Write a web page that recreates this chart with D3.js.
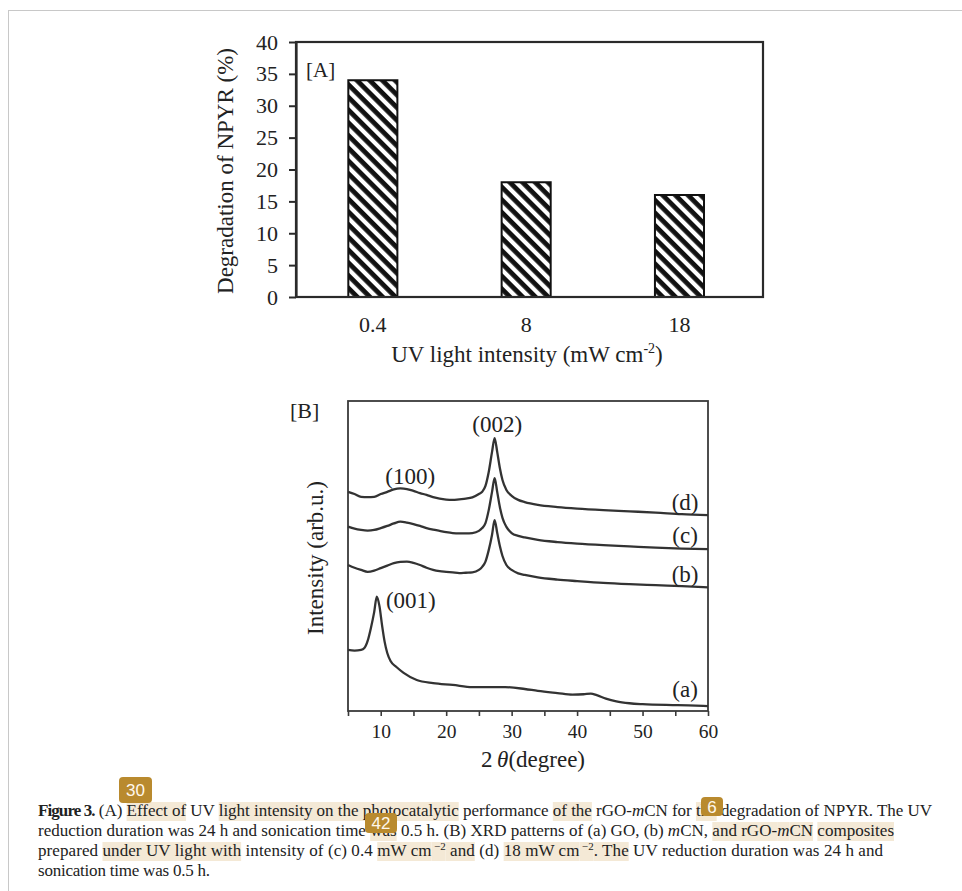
<!DOCTYPE html>
<html>
<head>
<meta charset="utf-8">
<script src="https://cdn.jsdelivr.net/npm/d3@7"></script>
<style>
  body { margin: 0; background: #fff; }
  svg text { font-family: "Liberation Serif", "Times New Roman", serif; fill: #222; }
</style>
</head>
<body>
<div id="fig"></div>
<script>
// ---- data: panel A (bar chart)
var barCats = ["0.4", "8", "18"];
var barVals = [34, 18, 16];
var yTicksA = [0, 5, 10, 15, 20, 25, 30, 35, 40];

// ---- data: panel B (XRD patterns), [2theta, intensity (arb.u.)]
var xrdA = [[5,19.7],[6,19.5],[7,19.7],[7.5,20.3],[8,22.6],[8.5,26.8],[9,31.9],[9.4,36.9],[9.8,33.9],[10.2,27.7],[10.6,22.3],[11,18.7],[11.5,16.1],[12.4,14.2],[13.5,12.3],[15.5,10.0],[18,9.0],[21,8.4],[24,7.7],[27,7.7],[29,7.7],[32,7.1],[34,6.5],[37,5.8],[39.3,5.3],[41,5.4],[42.1,5.6],[43,5.1],[44.4,4.0],[46,3.1],[48,2.5],[50,2.2],[54.6,1.9],[57,1.8],[60,1.6]];
var xrdB = [[5,47.1],[6,46.2],[7,45.5],[8,44.9],[9,45.3],[10,46.1],[11,46.9],[12,47.7],[13,48.1],[14,48.2],[15,47.8],[16,47.1],[17,46.2],[18,45.5],[19,45.1],[20,44.9],[21,44.7],[22,44.5],[23,44.6],[24,44.7],[25,45.5],[25.5,46.5],[26,48.2],[26.5,51.9],[27,56.8],[27.4,61.6],[27.8,57.4],[28.2,53.2],[28.6,50.0],[29.2,47.1],[30,45.5],[31,44.4],[32,43.9],[34,43.1],[37,42.4],[40,41.9],[44,41.3],[48,40.9],[52,40.6],[56,40.3],[60,39.9]];
var xrdC = [[5,59.5],[6,58.8],[7,58.4],[8,58.2],[9,58.4],[10,59.0],[11,59.7],[12,60.5],[13,61.1],[14,60.8],[15,60.3],[16,59.7],[17,59.0],[18,58.5],[19,58.1],[20,57.7],[21,57.4],[22,57.3],[23,57.3],[24,57.4],[25,58.1],[25.5,59.0],[26,60.6],[26.5,64.8],[27,70.6],[27.4,75.1],[27.8,70.6],[28.2,65.8],[28.6,62.3],[29.2,59.4],[30,57.4],[31,56.5],[32,56.0],[34,55.2],[37,54.5],[40,54.0],[44,53.5],[48,53.1],[52,52.7],[56,52.4],[60,52.2]];
var xrdD = [[5,70.7],[6,70.0],[7,69.1],[8,69.0],[9,69.1],[10,70.0],[11,70.7],[12,71.5],[13,71.8],[14,71.6],[15,71.0],[16,70.3],[17,69.7],[18,69.0],[19,68.5],[20,68.2],[21,68.1],[22,68.3],[23,68.5],[24,68.9],[25,70.0],[25.5,70.7],[26,72.6],[26.5,77.1],[27,83.5],[27.4,88.0],[27.8,83.5],[28.2,78.4],[28.6,74.5],[29.2,71.3],[30,69.4],[31,68.1],[32,67.4],[34,66.5],[37,65.8],[40,65.3],[44,64.8],[48,64.4],[52,64.0],[56,63.5],[60,63.2]];
var xTicksB = [5, 10, 15, 20, 25, 30, 35, 40, 45, 50, 55, 60];
var curveNames = ["(a)", "(b)", "(c)", "(d)"];
var curveLabelAt = [[56.5, 4.6], [56.5, 41.7], [56.5, 54.1], [56.5, 64.8]];
var peakNames = ["(001)", "(100)", "(002)"];
var peakLabelAt = [[10.8, 33.1], [14.5, 73.1], [27.8, 90.1]];

// ---- caption text, one array per line: [text, flags]  (b bold, i italic, h highlight, s superscript)
var capLine1 = [["Figure 3.","b"],[" (A) ",""],["Effect of","h"],[" UV ",""],["light intensity on the photocatalytic","h"],[" performance ",""],["of the","h"],[" rGO-",""],["m","i"],["CN for ",""],["the","h"],[" degradation of NPYR. The UV",""]];
var capLine2 = [["reduction duration was 24 h and sonication time ",""],["was","h"],[" 0.5 h. (B) XRD patterns of (a) GO, (b) ",""],["m","i"],["CN, ",""],["and rGO-","h"],["m","hi"],["CN","h"],[" ",""],["composites","h"]];
var capLine3 = [["prepared ",""],["under UV light with","h"],[" intensity of (c) 0.4 ",""],["mW cm","h"],["\u2009\u22122","hs"],[" and","h"],[" (d) ",""],["18 mW cm","h"],["\u2009\u22122","hs"],[". The","h"],[" UV reduction duration was 24 h and",""]];
var capLine4 = [["sonication time was 0.5 h.",""]];

var svg = d3.select("#fig").append("svg")
        .attr("width", 962)
        .attr("height", 891);

// light frame around the figure
svg.append("rect")
        .attr("x", 8.5).attr("y", 10.5)
        .attr("width", 1000).attr("height", 1000)
        .attr("fill", "none")
        .attr("stroke", "#c8c8c8");

// ================= panel A =================
var pa = { left: 296, right: 763, top: 42, bottom: 297 };

var xA = d3.scaleBand()
        .domain(barCats)
        .range([pa.left, pa.right])
        .paddingInner(0.68)
        .paddingOuter(0.363)
        .align(0.47);

var yA = d3.scaleLinear()
        .domain([0, 40])
        .range([pa.bottom, pa.top]);

var hatch = svg.append("defs").append("pattern")
        .attr("id", "hatch")
        .attr("patternUnits", "userSpaceOnUse")
        .attr("width", 9)
        .attr("height", 9)
        .attr("patternTransform", "rotate(45)");
hatch.append("rect").attr("width", 9).attr("height", 9).attr("fill", "#fff");
hatch.append("rect").attr("width", 9).attr("height", 4.8).attr("fill", "#111");

svg.selectAll(".bar")
        .data(barVals)
        .enter().append("rect")
        .attr("class", "bar")
        .attr("x", function (d, i) { return xA(barCats[i]); })
        .attr("y", function (d) { return yA(d); })
        .attr("width", xA.bandwidth())
        .attr("height", function (d) { return yA(0) - yA(d); })
        .attr("fill", "url(#hatch)")
        .attr("stroke", "#111")
        .attr("stroke-width", 2);

svg.append("rect")
        .attr("x", pa.left).attr("y", pa.top)
        .attr("width", pa.right - pa.left)
        .attr("height", pa.bottom - pa.top)
        .attr("fill", "none")
        .attr("stroke", "#2a2a2a")
        .attr("stroke-width", 2.2);

var gyA = svg.append("g")
        .attr("transform", "translate(" + pa.left + ",0)")
        .call(d3.axisLeft(yA).tickValues(yTicksA).tickSize(7).tickSizeOuter(0).tickPadding(11));
gyA.select(".domain").attr("stroke", "#2a2a2a").attr("stroke-width", 2.2);
gyA.selectAll(".tick line").attr("stroke", "#2a2a2a").attr("stroke-width", 2);
gyA.selectAll(".tick text").style("font-size", "22px").style("font-family", null).attr("fill", null);

var gxA = svg.append("g")
        .attr("transform", "translate(0," + pa.bottom + ")")
        .call(d3.axisBottom(xA).tickSize(0).tickPadding(19));
gxA.select(".domain").remove();
gxA.selectAll(".tick text").style("font-size", "22px").style("font-family", null).attr("fill", null);

svg.append("text")
        .attr("x", 306).attr("y", 77)
        .style("font-size", "21px")
        .text("[A]");

svg.append("text")
        .attr("transform", "translate(233,171) rotate(-90)")
        .attr("text-anchor", "middle")
        .style("font-size", "23px")
        .text("Degradation of NPYR (%)");

var titleA = svg.append("text")
        .attr("x", 527).attr("y", 362)
        .attr("text-anchor", "middle")
        .style("font-size", "23px");
titleA.append("tspan").text("UV light intensity (mW cm");
titleA.append("tspan").attr("dy", -9).style("font-size", "14px").text("-2");
titleA.append("tspan").attr("dy", 9).text(")");

// ================= panel B =================
var pb = { left: 348, right: 708, top: 401, bottom: 711 };

var xB = d3.scaleLinear()
        .domain([5, 60])
        .range([pb.left, pb.right]);

var yB = d3.scaleLinear()
        .domain([0, 100])
        .range([pb.bottom, pb.top]);

var gxB = svg.append("g")
        .attr("transform", "translate(0," + pb.bottom + ")")
        .call(d3.axisBottom(xB).tickValues(xTicksB).tickSize(5).tickSizeOuter(0).tickPadding(8)
                .tickFormat(function (d) { return d % 10 === 0 ? d : ""; }));
gxB.select(".domain").remove();
gxB.selectAll(".tick line").attr("stroke", "#3a3a3a").attr("stroke-width", 1.6);
gxB.selectAll(".tick text").style("font-size", "19.5px").style("font-family", null).attr("fill", null);

svg.append("rect")
        .attr("x", pb.left).attr("y", pb.top)
        .attr("width", pb.right - pb.left)
        .attr("height", pb.bottom - pb.top)
        .attr("fill", "none")
        .attr("stroke", "#3a3a3a")
        .attr("stroke-width", 1.8);

var line = d3.line()
        .x(function (d) { return xB(d[0]); })
        .y(function (d) { return yB(d[1]); })
        .curve(d3.curveMonotoneX);

svg.selectAll(".xrd")
        .data([xrdA, xrdB, xrdC, xrdD])
        .enter().append("path")
        .attr("class", "xrd")
        .attr("d", line)
        .attr("fill", "none")
        .attr("stroke", "#333")
        .attr("stroke-width", 2.3)
        .attr("stroke-linejoin", "round");

svg.selectAll(".clabel")
        .data(curveNames)
        .enter().append("text")
        .attr("class", "clabel")
        .attr("x", function (d, i) { return xB(curveLabelAt[i][0]); })
        .attr("y", function (d, i) { return yB(curveLabelAt[i][1]); })
        .attr("text-anchor", "middle")
        .style("font-size", "23px")
        .text(function (d) { return d; });

svg.selectAll(".plabel")
        .data(peakNames)
        .enter().append("text")
        .attr("class", "plabel")
        .attr("x", function (d, i) { return xB(peakLabelAt[i][0]); })
        .attr("y", function (d, i) { return yB(peakLabelAt[i][1]); })
        .attr("text-anchor", function (d, i) { return i === 0 ? "start" : "middle"; })
        .style("font-size", "23px")
        .text(function (d) { return d; });

svg.append("text")
        .attr("x", 290).attr("y", 418)
        .style("font-size", "22px")
        .text("[B]");

svg.append("text")
        .attr("transform", "translate(323,558) rotate(-90)")
        .attr("text-anchor", "middle")
        .style("font-size", "23px")
        .text("Intensity (arb.u.)");

var titleB = svg.append("text")
        .attr("x", 533).attr("y", 767)
        .attr("text-anchor", "middle")
        .style("font-size", "23px");
titleB.append("tspan").text("2\u2009");
titleB.append("tspan").style("font-style", "italic").text("\u03b8");
titleB.append("tspan").text("(degree)");

// ================= caption =================
var capX = 38;
var capLines = [
        { segs: capLine1, y: 816, w: 894 },
        { segs: capLine2, y: 836, w: 856 },
        { segs: capLine3, y: 856, w: 845 },
        { segs: capLine4, y: 876, w: 172 }
];

var hlLayer = svg.append("g");
var capLayer = svg.append("g");

capLines.forEach(function (ln) {
        var t = capLayer.append("text")
                .attr("x", capX).attr("y", ln.y)
                .attr("textLength", ln.w)
                .attr("lengthAdjust", "spacing")
                .style("font-size", "17px")
                .attr("xml:space", "preserve");
        var idx = 0, spans = [], wasSup = false;
        ln.segs.forEach(function (s) {
                var ts = t.append("tspan").text(s[0]);
                var f = s[1];
                if (f.indexOf("b") >= 0) ts.style("font-weight", "bold").style("letter-spacing", "-0.9px");
                if (f.indexOf("i") >= 0) ts.style("font-style", "italic");
                if (f.indexOf("s") >= 0) { ts.attr("dy", -6).style("font-size", "11px"); wasSup = true; }
                else if (wasSup) { ts.attr("dy", 6); wasSup = false; }
                spans.push({ from: idx, to: idx + s[0].length, hl: f.indexOf("h") >= 0 });
                idx += s[0].length;
        });
        var node = t.node();
        spans.forEach(function (sp) {
                if (!sp.hl) return;
                var a = node.getExtentOfChar(sp.from);
                var b = node.getExtentOfChar(sp.to - 1);
                hlLayer.append("rect")
                        .attr("x", a.x)
                        .attr("y", ln.y - 14)
                        .attr("width", b.x + b.width - a.x)
                        .attr("height", 19)
                        .attr("fill", "#f4e9d6");
        });
});

// annotation badges drawn over the caption
var badges = [
        { label: "30", x: 119, y: 777, w: 33, h: 26 },
        { label: "42", x: 365, y: 813, w: 32, h: 20 },
        { label: "6", x: 701, y: 797, w: 22, h: 19 }
];
var bg = svg.selectAll(".badge")
        .data(badges)
        .enter().append("g")
        .attr("class", "badge");
bg.append("rect")
        .attr("x", function (d) { return d.x; })
        .attr("y", function (d) { return d.y; })
        .attr("width", function (d) { return d.w; })
        .attr("height", function (d) { return d.h; })
        .attr("rx", 4)
        .attr("fill", "#b98a2e");
bg.append("text")
        .attr("x", function (d) { return d.x + d.w / 2; })
        .attr("y", function (d) { return d.y + d.h / 2 + 6; })
        .attr("text-anchor", "middle")
        .style("font-family", "'Liberation Sans', Arial, sans-serif")
        .style("font-size", "17px")
        .style("fill", "#fff8ec")
        .text(function (d) { return d.label; });
</script>
</body>
</html>
